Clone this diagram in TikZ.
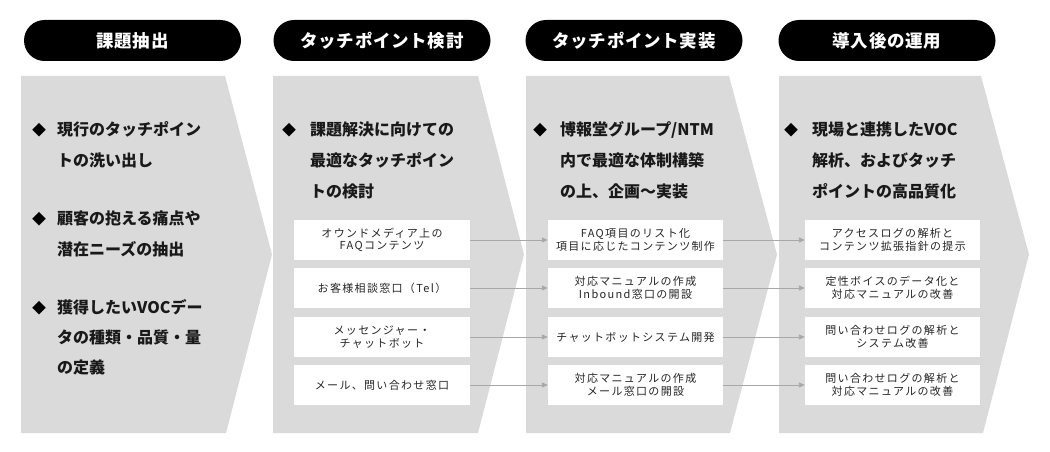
\documentclass[tikz,border=0pt]{standalone}
\usepackage{fontspec}
\setmainfont{Noto Sans CJK JP}
\newfontfamily\hfont[LetterSpace=4]{Noto Sans CJK JP}
\newfontfamily\bfont[LetterSpace=12]{Noto Sans CJK JP}
\usetikzlibrary{arrows.meta}
\definecolor{chev}{HTML}{DADADA}
\definecolor{arrgray}{HTML}{A8A8A8}
\definecolor{boxtxt}{HTML}{262626}
\begin{document}
\begin{tikzpicture}[x=1pt,y=-1pt,
 pill/.style={fill=black, rounded corners=20.5pt, minimum width=217pt, minimum height=41pt, inner sep=0pt, text=white, font=\hfont\bfseries\fontsize{17.5}{20}\selectfont},
 tbox/.style={fill=white, minimum width=175pt, minimum height=40pt, inner sep=0pt, align=center, text=boxtxt, font=\bfont\fontsize{11}{12.5}\selectfont},
 bline/.style={anchor=base west, inner sep=0pt, font=\bfseries\fontsize{16}{20}\selectfont, text=black!90},
 bdia/.style={anchor=base, inner sep=0pt, font=\fontsize{14}{16}\selectfont},
 arr/.style={draw=arrgray, line width=0.9pt, -{Triangle[length=6pt,width=5pt]}},
 chevfill/.style={fill=chev}]
\fill[white] (0,0) rectangle (1050,452);
\useasboundingbox (0,0) rectangle (1050,452);
% chevrons
\fill[chevfill] (21,76) -- (225,76) -- (272,254.5) -- (226,433) -- (21,433) -- cycle;
\fill[chevfill] (273,76) -- (478,76) -- (524,254.5) -- (478,433) -- (273,433) -- cycle;
\fill[chevfill] (526,76) -- (729,76) -- (777,254.5) -- (730,433) -- (526,433) -- cycle;
\fill[chevfill] (779,76) -- (981,76) -- (1029,254.5) -- (983,433) -- (779,433) -- cycle;
% pills
\node[pill] (p1) at (132.5,40.5) {課題抽出};
\node[pill] (p2) at (382,40.5) {タッチポイント検討};
\node[pill] (p3) at (634,40.5) {タッチポイント実装};
\node[pill] (p4) at (887,40.5) {導入後の運用};
% column 1 bullets
\node[bdia] (d11) at (39,135) {◆};
\node[bline] (l11) at (57,135) {現行のタッチポイン};
\node[bline] (l12) at (57,166) {トの洗い出し};
\node[bdia] (d12) at (39,224) {◆};
\node[bline] (l13) at (57,224) {顧客の抱える痛点や};
\node[bline] (l14) at (57,255) {潜在ニーズの抽出};
\node[bdia] (d13) at (39,313) {◆};
\node[bline] (l15) at (57,313) {獲得したいVOCデー};
\node[bline] (l16) at (57,343) {タの種類・品質・量};
\node[bline] (l17) at (57,373) {の定義};
% column 2 bullets
\node[bdia] (d21) at (289,135) {◆};
\node[bline] (l21) at (310,135) {課題解決に向けての};
\node[bline] (l22) at (310,166) {最適なタッチポイン};
\node[bline] (l23) at (310,197) {トの検討};
% column 3 bullets
\node[bdia] (d31) at (540,135) {◆};
\node[bline] (l31) at (560,135) {博報堂グループ/NTM};
\node[bline] (l32) at (560,166) {内で最適な体制構築};
\node[bline] (l33) at (560,197) {の上、企画～実装};
% column 4 bullets
\node[bdia] (d41) at (791,135) {◆};
\node[bline] (l41) at (812,135) {現場と連携したVOC};
\node[bline] (l42) at (812,166) {解析、およびタッチ};
\node[bline] (l43) at (812,197) {ポイントの高品質化};
% boxes column 2
\node[tbox, minimum width=176pt] (b21) at (382,240) {オウンドメディア上の\\FAQコンテンツ};
\node[tbox, minimum width=176pt] (b22) at (382,288) {お客様相談窓口（Tel）};
\node[tbox, minimum width=176pt] (b23) at (382,337) {メッセンジャー・\\チャットボット};
\node[tbox, minimum width=176pt] (b24) at (382,385) {メール、問い合わせ窓口};
% boxes column 3
\node[tbox] (b31) at (635.5,240) {FAQ項目のリスト化\\項目に応じたコンテンツ制作};
\node[tbox] (b32) at (635.5,288) {対応マニュアルの作成\\Inbound窓口の開設};
\node[tbox] (b33) at (635.5,337) {チャットボットシステム開発};
\node[tbox] (b34) at (635.5,385) {対応マニュアルの作成\\メール窓口の開設};
% boxes column 4
\node[tbox] (b41) at (892.5,240) {アクセスログの解析と\\コンテンツ拡張指針の提示};
\node[tbox] (b42) at (892.5,288) {定性ボイスのデータ化と\\対応マニュアルの改善};
\node[tbox] (b43) at (892.5,337) {問い合わせログの解析と\\システム改善};
\node[tbox] (b44) at (892.5,385) {問い合わせログの解析と\\対応マニュアルの改善};
% arrows
\foreach \r in {1,2,3,4}{
  \draw[arr] (b2\r.east) -- (b3\r.west);
  \draw[arr] (b3\r.east) -- (b4\r.west);
}
\end{tikzpicture}
\end{document}
